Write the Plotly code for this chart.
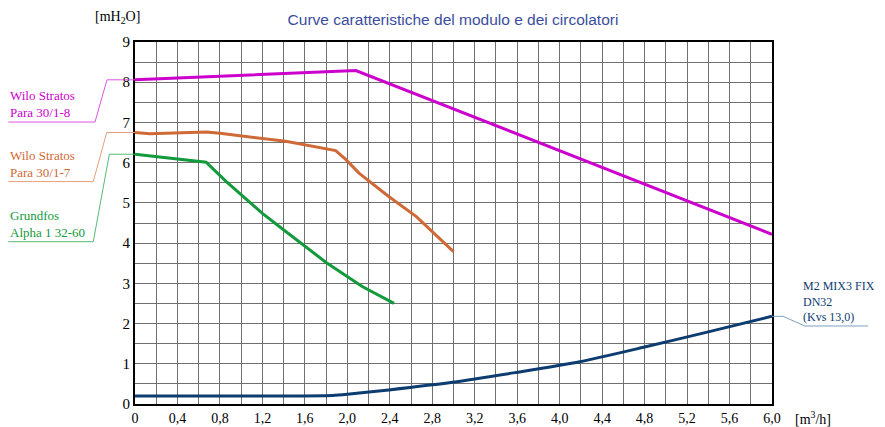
import numpy as np
import plotly.graph_objects as go

# ---- data ----
wilo8_x = [0, 2.08, 6.0]
wilo8_y = [8.06, 8.29, 4.22]

wilo7_x = [0, 0.14, 0.67, 0.8, 1.42, 1.89, 1.99, 2.11, 2.39, 2.65, 3.0]
wilo7_y = [6.75, 6.72, 6.76, 6.73, 6.53, 6.30, 6.07, 5.74, 5.16, 4.66, 3.79]

grundfos_x = [0, 0.67, 0.86, 1.2, 1.42, 1.8, 2.14, 2.44]
grundfos_y = [6.21, 6.01, 5.53, 4.74, 4.29, 3.52, 2.92, 2.50]

m2_x = [0, 1.0, 1.55, 1.86, 2.0, 2.39, 2.99, 3.58, 4.19, 4.79, 5.38, 6.0]
m2_y = [0.2, 0.2, 0.2, 0.21, 0.24, 0.35, 0.54, 0.78, 1.05, 1.41, 1.78, 2.18]

x_grid = [round(0.2 * i, 1) for i in range(31)]
x_labels = ["0" if v == 0 else (f"{v:.1f}".replace(".", ",") if i % 2 == 0 else "")
            for i, v in enumerate(x_grid)]
y_grid = [0.5 * i for i in range(19)]
y_labels = [str(int(v)) if i % 2 == 0 else "" for i, v in enumerate(y_grid)]

C_MAG = "#cc00cc"
C_ORG = "#cf6a36"
C_GRN = "#129a3c"
C_BLU = "#0c3c70"
C_TITLE = "#3b4d9e"

SERIF = "Liberation Serif"
SANS = "Liberation Sans"

# page body has an 8px margin: figure is sized/offset to compensate
W, H = 877, 419

fig = go.Figure()
fig.add_trace(go.Scatter(x=wilo8_x, y=wilo8_y, mode="lines",
                         line=dict(color=C_MAG, width=3), name="Wilo Stratos Para 30/1-8"))
fig.add_trace(go.Scatter(x=wilo7_x, y=wilo7_y, mode="lines",
                         line=dict(color=C_ORG, width=3), name="Wilo Stratos Para 30/1-7"))
fig.add_trace(go.Scatter(x=grundfos_x, y=grundfos_y, mode="lines",
                         line=dict(color=C_GRN, width=3), name="Grundfos Alpha 1 32-60"))
fig.add_trace(go.Scatter(x=m2_x, y=m2_y, mode="lines",
                         line=dict(color=C_BLU, width=3, shape="spline", smoothing=0.6),
                         name="M2 MIX3 FIX DN32"))

# ---- leader lines (paper x, data y) ----
def leader(y_curve, y_under, x_bend_top, x_bend_bot, x_left, color):
    fig.add_shape(type="path", xref="paper", yref="y",
                  path=f"M 0 {y_curve} L {x_bend_top} {y_curve} L {x_bend_bot} {y_under} L {x_left} {y_under}",
                  line=dict(color=color, width=1))

leader(wilo8_y[0], 7.01, -0.044, -0.0628, -0.199, "#dd55dd")
leader(wilo7_y[0], 5.53, -0.0444, -0.0655, -0.199, "#e8a07c")
leader(grundfos_y[0], 4.035, -0.0403, -0.0655, -0.199, "#55bb75")
fig.add_shape(type="path", xref="paper", yref="y",
              path=f"M 1 {m2_y[-1]} L 1.0173 {m2_y[-1]} L 1.0515 1.94 L 1.1507 1.94",
              line=dict(color="#7f9fc0", width=1))

def label(text, y, color, x=-0.199, size=13):
    fig.add_annotation(text=text, xref="paper", yref="y", x=x, y=y,
                       xanchor="left", yanchor="bottom", showarrow=False, align="left",
                       font=dict(family=SERIF, size=size, color=color))

label("Wilo Stratos<br>Para 30/1-8", 7.01, C_MAG)
label("Wilo Stratos<br>Para 30/1-7", 5.53, C_ORG)
label("Grundfos<br>Alpha 1 32-60", 4.035, C_GRN)
label("M2 MIX3 FIX<br>DN32<br>(Kvs 13,0)", 1.94, C_BLU, x=1.046, size=12)

fig.add_annotation(text="[mH<sub>2</sub>O]", xref="paper", yref="paper", x=-0.028, y=1.069,
                   xanchor="center", yanchor="middle",
                   showarrow=False, font=dict(family=SERIF, size=14, color="black"))
fig.add_annotation(text="[m<sup>3</sup>/h]", xref="paper", yref="paper", x=1.064, y=-0.039,
                   xanchor="center", yanchor="middle",
                   showarrow=False, font=dict(family=SERIF, size=14, color="black"))

fig.update_layout(
    width=W, height=H,
    margin=dict(l=127, r=113, t=34, b=23),
    paper_bgcolor="white", plot_bgcolor="white",
    showlegend=False,
    title=dict(text="Curve caratteristiche del modulo e dei circolatori",
               x=445 / W, xanchor="center", y=1 - 12 / H, yanchor="middle",
               font=dict(family=SANS, size=15.5, color=C_TITLE)),
    xaxis=dict(range=[0, 6], tickmode="array", tickvals=x_grid, ticktext=x_labels,
               showgrid=True, gridcolor="#707070", gridwidth=1, zeroline=False,
               showline=True, linecolor="black", linewidth=2, mirror=True, automargin=False,
               ticks="", tickfont=dict(family=SERIF, size=14, color="black")),
    yaxis=dict(range=[0, 9], tickmode="array", tickvals=y_grid, ticktext=y_labels,
               showgrid=True, gridcolor="#707070", gridwidth=1, zeroline=False,
               showline=True, linecolor="black", linewidth=2, mirror=True, automargin=False,
               ticks="", tickfont=dict(family=SERIF, size=15, color="black")),
)

fig.write_html("out.html")
